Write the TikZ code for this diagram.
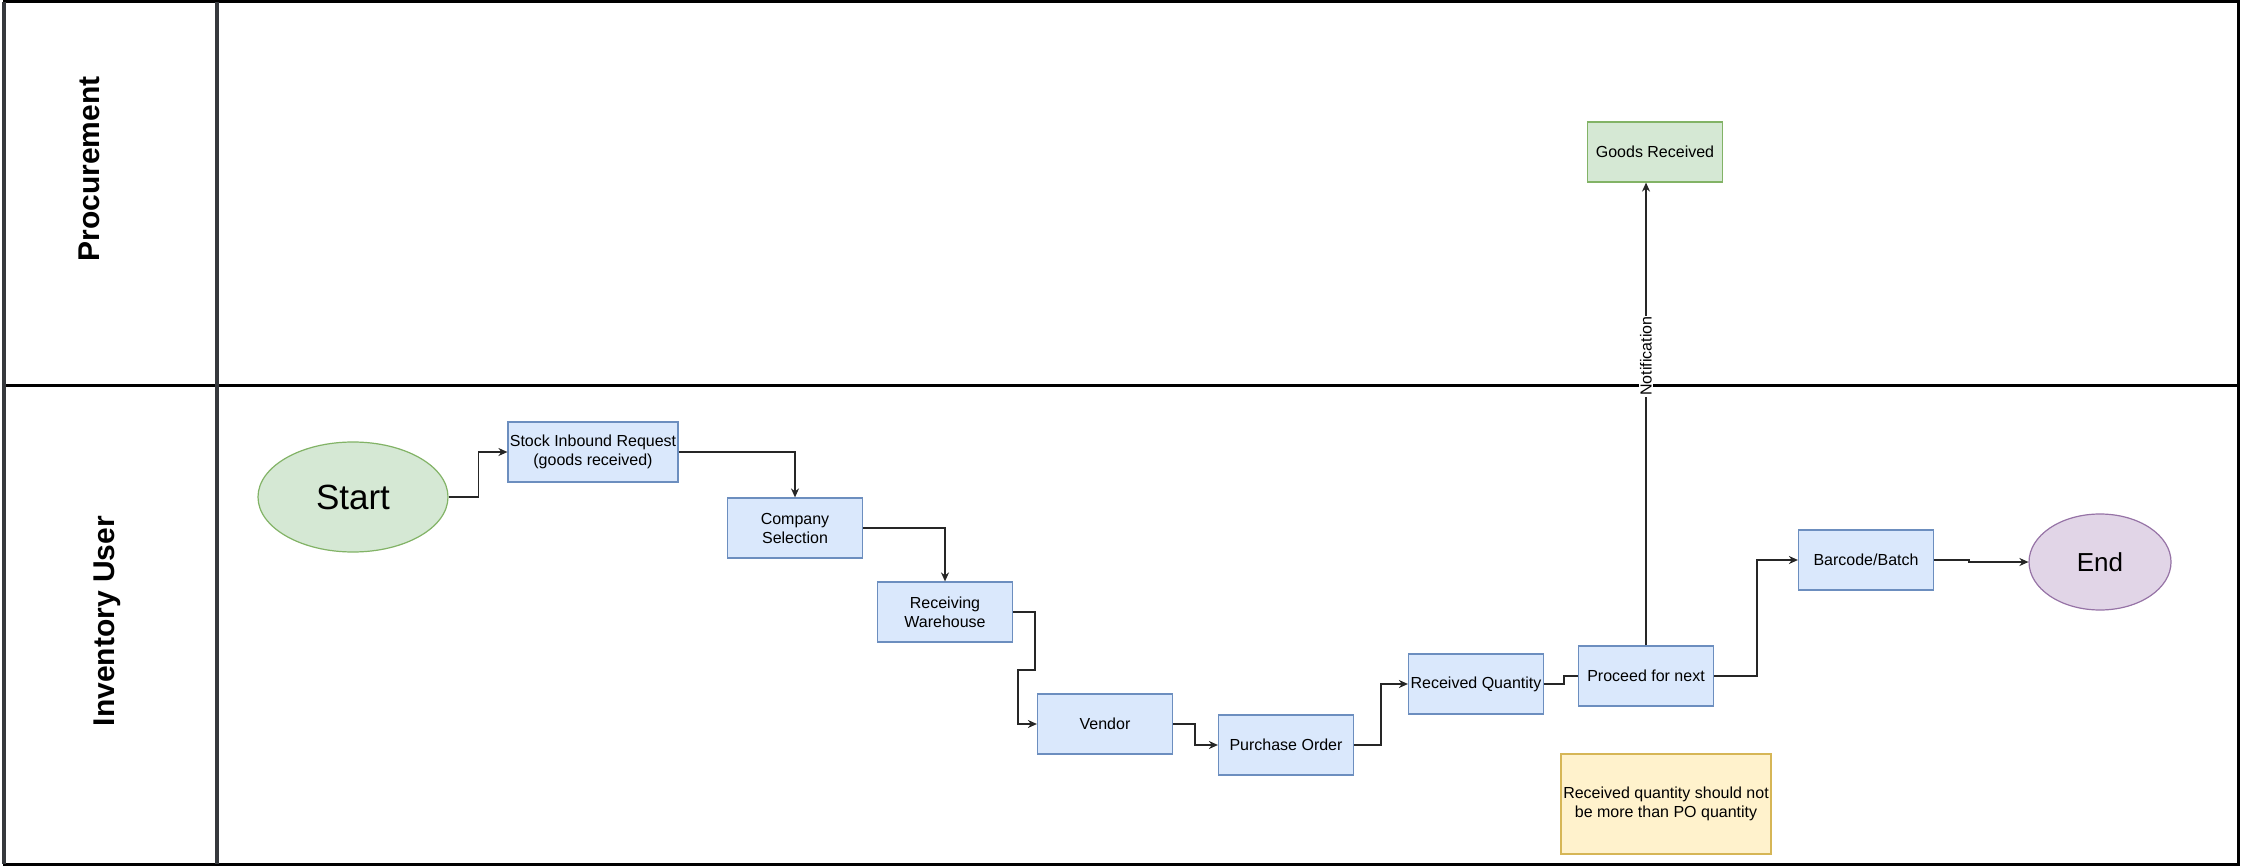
\documentclass[tikz,border=0pt]{standalone}
\usepackage{fontspec}
\setmainfont{Liberation Sans}
\usetikzlibrary{arrows.meta,shapes.geometric}
\definecolor{bfill}{HTML}{DAE8FC}
\definecolor{bline}{HTML}{6C8EBF}
\definecolor{gfill}{HTML}{D5E8D4}
\definecolor{gline}{HTML}{82B366}
\definecolor{pfill}{HTML}{E1D5E7}
\definecolor{pline}{HTML}{9673A6}
\definecolor{yfill}{HTML}{FFF2CC}
\definecolor{yline}{HTML}{D6B656}
\definecolor{slate}{HTML}{36393D}
\begin{document}
\begin{tikzpicture}[x=1pt,y=-1pt,
  txt/.style={font=\fontsize{16}{19}\selectfont, text=black},
  box/.style={txt, draw=bline, fill=bfill, line width=1.2pt, minimum width=135pt, minimum height=60pt, inner sep=0pt, align=center},
  gbox/.style={box, draw=gline, fill=gfill},
  ybox/.style={box, draw=yline, fill=yfill, minimum width=210pt, minimum height=100pt},
  oval/.style={ellipse, draw=gline, fill=gfill, line width=1.2pt, inner sep=0pt},
  conn/.style={line width=1.5pt, draw=black!85, -{Stealth[length=9pt,width=8pt]}},
  plain/.style={line width=1.5pt, draw=black!85},
  lanetitle/.style={rotate=90, font=\fontsize{30}{36}\selectfont\bfseries, text=black}]
\useasboundingbox (0,0) rectangle (2242,866);
\fill[white] (0,0) rectangle (2242,866);
% swimlane frame
\draw[line width=3pt, black] (4,2) rectangle (2238,864);
\draw[line width=3pt, black] (2,385) -- (2240,385);
\draw[line width=3.5pt, slate] (4,2) -- (4,864);
\draw[line width=3.5pt, slate] (217,2) -- (217,864);
\node[lanetitle] (lproc) at (89,169) {Procurement};
\node[lanetitle] (linv) at (107,621) {Inventory User};
% nodes
\node[oval, minimum width=190pt, minimum height=110pt, font=\fontsize{35}{40}\selectfont] (start) at (353,497) {Start};
\node[box, minimum width=170pt] (sir) at (593,452) {Stock Inbound Request\\(goods received)};
\node[box] (cs) at (795,528) {Company\\Selection};
\node[box] (rw) at (945,612) {Receiving\\Warehouse};
\node[box] (vendor) at (1105,724) {Vendor};
\node[box] (po) at (1286,745) {Purchase Order};
\node[box] (rq) at (1476,684) {Received Quantity};
\node[box] (pfn) at (1646,676) {Proceed for next};
\node[box] (bb) at (1866,560) {Barcode/Batch};
\node[oval, draw=pline, fill=pfill, minimum width=142pt, minimum height=96pt, font=\fontsize{26}{30}\selectfont] (end) at (2100,562) {End};
\node[gbox] (gr) at (1655,152) {Goods Received};
\node[ybox] (note) at (1666,804) {Received quantity should not\\be more than PO quantity};
% connectors
\draw[conn] (start.east) -- ++(30,0) |- (sir.west);
\draw[conn] (sir.east) -| (cs.north);
\draw[conn] (cs.east) -| (rw.north);
\draw[conn] (rw.east) -- ++(22,0) |- (1018,670) |- (vendor.west);
\draw[conn] (vendor.east) -- ++(22,0) |- (po.west);
\draw[conn] (po.east) -- ++(27,0) |- (rq.west);
\draw[plain] (rq.east) -- ++(20,0) |- (pfn.west);
\draw[conn] (pfn.east) -- ++(43,0) |- (bb.west);
\draw[conn] (bb.east) -- ++(35,0) |- (end.west);
\draw[conn] (pfn.north) -- (pfn.north |- gr.south)
  node[pos=0.625, rotate=90, fill=white, inner sep=1pt, txt] (notif) {Notification};
\end{tikzpicture}
\end{document}
